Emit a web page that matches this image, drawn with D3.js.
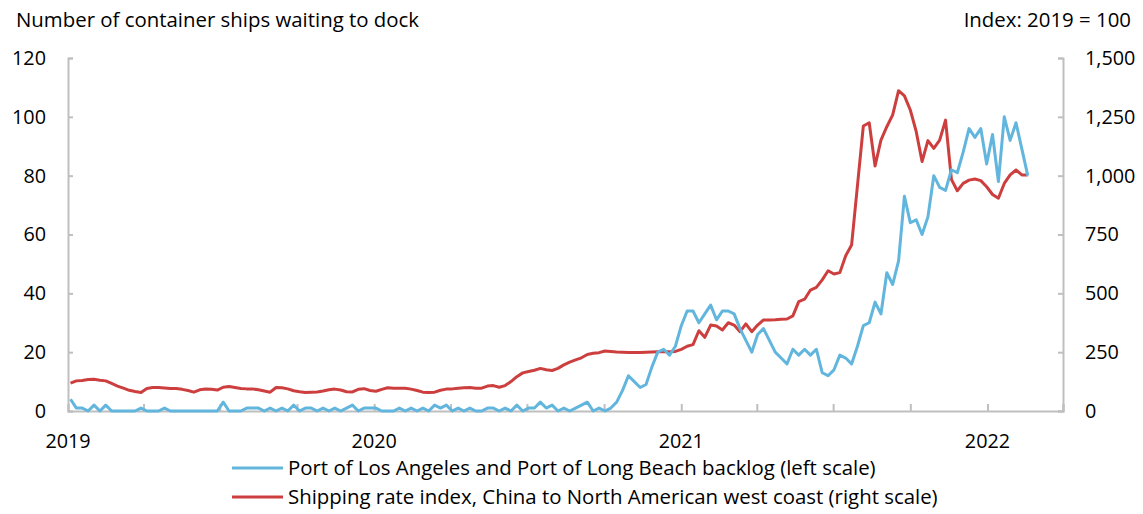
<!DOCTYPE html>
<html><head><meta charset="utf-8">
<script src="https://cdn.jsdelivr.net/npm/d3@7"></script>
<style>
body{margin:0;background:#fff;}
text{font-family:"Open Sans","Noto Sans",sans-serif;fill:#000;}
</style></head>
<body><svg id="c" width="1143" height="514"></svg>
<script>
// weekly observations starting first Friday of 2019
const startDate = "2019-01-04";
const backlog = [4,1,1,0,2,0,2,0,0,0, 0,0,1,0,0,0,1,0,0,0, 0,0,0,0,0,0,3,0,0,0, 1,1,1,0,1,0,1,0,2,0, 1,1,0,1,0,1,0,1,2,0, 1,1,
 1,0,0,0,1,0,1,0,1,0,2,1,
 2,0,1,0,1,0,0,1,1,0,1,0,
 2,0,1,1,3,1,2,0,1,0,1,2,3,
 0,1,0,1,3,7,12,10,
 8,9,15,20,21,19,22,29,34,
 34,30,33,36,31,34,34,33,28,24, 20,26,28,24,20,18,16,21,19,21, 19,21,13,12,14,19,18,16,22,29,
 30,37,33,47,43,51,73,64,65,60, 66,80,76,75,82,81,88,96,93,96, 84,94,78,100,92,98,89,80];
const rateIndex = [118,128,130,134,135,131,128,117,106,97, 88,83,79,96,100,100,98,96,96,92, 87,80,90,93,92,89,101,104,100,96, 94,94,90,85,80,100,99,94,
 86,82,79,80,81,85,90,93,89,82, 81,92,95,87,84,92,99,97,97,97, 93,87,80,79,80,88,
 93,94,97,99,100,97,97,106,108,101, 108,125,146,162,168,173,181,175,172,181, 196,208,217,226,240,245,248,255,253,251, 250,249,249,249,250,251,252,252,252,253, 262,
 275,282,341,313,365,361,344,375,365,337, 370,337,365,387,387,388,390,391,404,465, 475,514,525,557,596,582,588,660,705,958,
 1211,1225,1041,1151,1208,1258,1361,1339,1279,1188, 1060,1149,1116,1151,1236,984,936,967,981,986, 979,953,920,904,967,1003,1024,1003,1003];
const leftTicks = [0,20,40,60,80,100,120];
const rightTicks = [0,250,500,750,1000,1250,1500];
const yearLabels = ["2019","2020","2021","2022"];
const seriesNames = ["Port of Los Angeles and Port of Long Beach backlog (left scale)",
  "Shipping rate index, China to North American west coast (right scale)"];
const titleLeft = "Number of container ships waiting to dock";
const titleRight = "Index: 2019 = 100";

const svg = d3.select("#c");
const X0=68, X1=1063, Y0=411, Y1=58;
const FS = 20.4, TFS = 19.8;
const parse = d3.timeParse("%Y-%m-%d");
const start = parse(startDate);
const dates = backlog.map((_,i)=>d3.timeDay.offset(start, 7*i));
const x = d3.scaleTime().domain([new Date(2019,0,1), new Date(2022,3,1)]).range([X0,X1]);
const yL = d3.scaleLinear().domain([0,120]).range([Y0,Y1]);
const yR = d3.scaleLinear().domain([0,1500]).range([Y0,Y1]);
const axisColor="#bfbfbf";

// axes
const gx = svg.append("g").attr("transform",`translate(0,${Y0})`)
  .call(d3.axisTop(x).ticks(d3.timeMonth.every(3)).tickSize(7).tickFormat(""));
const gl = svg.append("g").attr("transform",`translate(${X0},0)`)
  .call(d3.axisRight(yL).tickValues(leftTicks).tickSize(5).tickFormat(""));
const gr = svg.append("g").attr("transform",`translate(${X1},0)`)
  .call(d3.axisLeft(yR).tickValues(rightTicks).tickSize(5).tickFormat(""));
[gx,gl,gr].forEach(g=>{
  g.selectAll("path").attr("stroke",axisColor).attr("stroke-width",2);
  g.selectAll("line").attr("stroke",axisColor).attr("stroke-width",2);
});

svg.selectAll(".ll").data(leftTicks).join("text")
  .attr("x",46).attr("y",d=>yL(d)).attr("dy","0.35em")
  .attr("text-anchor","end").attr("font-size",TFS).text(d=>d);
svg.selectAll(".rl").data(rightTicks).join("text")
  .attr("x",1085).attr("y",d=>yR(d)).attr("dy","0.35em")
  .attr("text-anchor","start").attr("font-size",TFS).text(d=>d3.format(",")(d));
svg.selectAll(".xl").data(yearLabels).join("text")
  .attr("x",d=>x(new Date(+d,0,1))).attr("y",448)
  .attr("text-anchor","middle").attr("font-size",TFS).text(d=>d);

svg.append("text").attr("x",16).attr("y",27).attr("font-size",FS).text(titleLeft);
svg.append("text").attr("x",1131).attr("y",27).attr("font-size",FS).attr("text-anchor","end").text(titleRight);

const blue="#62b6dd", red="#cd3f3f";
const lineL = d3.line().x((d,i)=>x(dates[i])).y(d=>yL(d));
const lineR = d3.line().x((d,i)=>x(dates[i])).y(d=>yR(d));
svg.append("path").datum(rateIndex).attr("d",lineR).attr("fill","none")
  .attr("stroke",red).attr("stroke-width",3).attr("stroke-linejoin","round");
svg.append("path").datum(backlog).attr("d",lineL).attr("fill","none")
  .attr("stroke",blue).attr("stroke-width",3).attr("stroke-linejoin","round");

// legend
const leg = [[seriesNames[0],blue,468],[seriesNames[1],red,497]];
leg.forEach(([t,c,yy])=>{
  svg.append("line").attr("x1",232).attr("x2",283).attr("y1",yy).attr("y2",yy)
    .attr("stroke",c).attr("stroke-width",3);
  svg.append("text").attr("x",288).attr("y",yy).attr("dy","0.35em").attr("font-size",FS).text(t);
});
</script></body></html>
